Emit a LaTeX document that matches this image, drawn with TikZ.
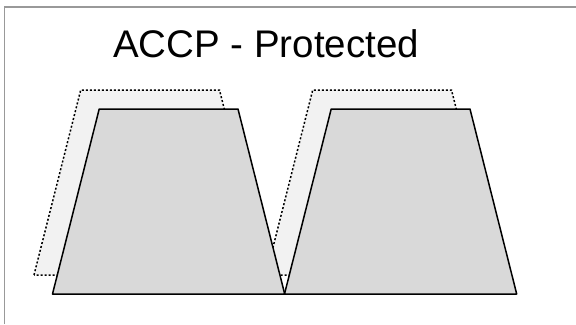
\documentclass[tikz,border=0pt]{standalone}
\usepackage{fontspec}
\setmainfont{Liberation Sans}
\usepackage{tikz}

\begin{document}
\begin{tikzpicture}[x=1bp,y=-1bp,
  trap/.style={draw=black,fill=gray!30,line width=1.5bp,line join=round},
  ghost/.style={draw=black,fill=black!5,dash pattern=on 2bp off 2bp,line width=1.5bp},
  frame/.style={draw=black!40,line width=1.3bp}]
\useasboundingbox (0,0) rectangle (576,324);
\draw[frame] (4.5,324) -- (4.5,7) -- (576,7);
\node[font=\fontsize{38.5bp}{46bp}\selectfont,anchor=base,inner sep=0pt] (title) at (266,57) {ACCP - Protected};
% shifted outlines behind
\foreach \dx in {0,232}{\draw[ghost,shift={(\dx,0)}] (34,275) -- (80.7,90) -- (219.5,90) -- (266.2,275) -- cycle;}
% the two trapezoids
\foreach \dx in {0,232}{\draw[trap,shift={(\dx,0)}] (52.5,294) -- (99.2,109) -- (238,109) -- (284.7,294) -- cycle;}
\end{tikzpicture}
\end{document}
